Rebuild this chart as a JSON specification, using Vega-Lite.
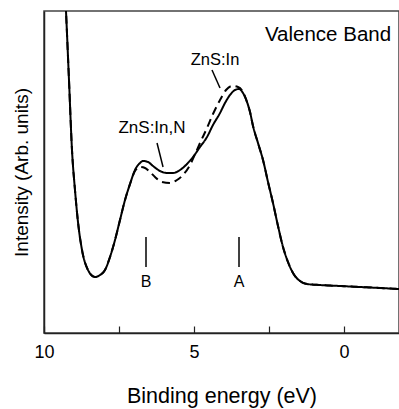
{
  "$schema": "https://vega.github.io/schema/vega-lite/v6.json",
  "width": 355,
  "height": 322,
  "autosize": {"type": "none"},
  "padding": {"left": 44, "top": 11, "right": 0, "bottom": 76},
  "background": "white",
  "config": {
    "view": {"stroke": "#444", "strokeWidth": 1.5},
    "font": "Liberation Sans",
    "axis": {"labelFont": "Liberation Sans", "titleFont": "Liberation Sans", "titleFontWeight": "normal", "labelColor": "black", "titleColor": "black", "domainColor": "#222", "tickColor": "#222", "grid": false}
  },
  "datasets": {
    "spectra": [
      {"E": 9.30, "I": 343, "sample": "ZnS:In,N"},
      {"E": 9.267, "I": 322, "sample": "ZnS:In,N"},
      {"E": 9.167, "I": 253, "sample": "ZnS:In,N"},
      {"E": 9.067, "I": 183, "sample": "ZnS:In,N"},
      {"E": 8.967, "I": 143, "sample": "ZnS:In,N"},
      {"E": 8.867, "I": 111, "sample": "ZnS:In,N"},
      {"E": 8.733, "I": 83, "sample": "ZnS:In,N"},
      {"E": 8.533, "I": 63, "sample": "ZnS:In,N"},
      {"E": 8.30, "I": 56, "sample": "ZnS:In,N"},
      {"E": 8.133, "I": 58, "sample": "ZnS:In,N"},
      {"E": 7.967, "I": 63, "sample": "ZnS:In,N"},
      {"E": 7.80, "I": 76, "sample": "ZnS:In,N"},
      {"E": 7.633, "I": 93, "sample": "ZnS:In,N"},
      {"E": 7.467, "I": 113, "sample": "ZnS:In,N"},
      {"E": 7.30, "I": 133, "sample": "ZnS:In,N"},
      {"E": 7.133, "I": 149, "sample": "ZnS:In,N"},
      {"E": 6.967, "I": 163, "sample": "ZnS:In,N"},
      {"E": 6.80, "I": 170, "sample": "ZnS:In,N"},
      {"E": 6.70, "I": 172, "sample": "ZnS:In,N"},
      {"E": 6.533, "I": 171, "sample": "ZnS:In,N"},
      {"E": 6.367, "I": 167, "sample": "ZnS:In,N"},
      {"E": 6.133, "I": 162, "sample": "ZnS:In,N"},
      {"E": 5.90, "I": 160, "sample": "ZnS:In,N"},
      {"E": 5.70, "I": 160, "sample": "ZnS:In,N"},
      {"E": 5.467, "I": 163, "sample": "ZnS:In,N"},
      {"E": 5.233, "I": 169, "sample": "ZnS:In,N"},
      {"E": 5.033, "I": 176, "sample": "ZnS:In,N"},
      {"E": 4.80, "I": 186, "sample": "ZnS:In,N"},
      {"E": 4.567, "I": 196, "sample": "ZnS:In,N"},
      {"E": 4.367, "I": 208, "sample": "ZnS:In,N"},
      {"E": 4.133, "I": 220, "sample": "ZnS:In,N"},
      {"E": 3.967, "I": 230, "sample": "ZnS:In,N"},
      {"E": 3.80, "I": 238, "sample": "ZnS:In,N"},
      {"E": 3.633, "I": 243, "sample": "ZnS:In,N"},
      {"E": 3.50, "I": 244, "sample": "ZnS:In,N"},
      {"E": 3.367, "I": 240, "sample": "ZnS:In,N"},
      {"E": 3.233, "I": 231, "sample": "ZnS:In,N"},
      {"E": 3.133, "I": 221, "sample": "ZnS:In,N"},
      {"E": 3.033, "I": 207, "sample": "ZnS:In,N"},
      {"E": 2.867, "I": 190, "sample": "ZnS:In,N"},
      {"E": 2.70, "I": 173, "sample": "ZnS:In,N"},
      {"E": 2.533, "I": 151, "sample": "ZnS:In,N"},
      {"E": 2.367, "I": 130, "sample": "ZnS:In,N"},
      {"E": 2.20, "I": 107, "sample": "ZnS:In,N"},
      {"E": 2.033, "I": 86, "sample": "ZnS:In,N"},
      {"E": 1.867, "I": 71, "sample": "ZnS:In,N"},
      {"E": 1.70, "I": 60, "sample": "ZnS:In,N"},
      {"E": 1.467, "I": 52, "sample": "ZnS:In,N"},
      {"E": 1.233, "I": 49, "sample": "ZnS:In,N"},
      {"E": 0.80, "I": 48, "sample": "ZnS:In,N"},
      {"E": 0.133, "I": 47, "sample": "ZnS:In,N"},
      {"E": -0.533, "I": 46, "sample": "ZnS:In,N"},
      {"E": -1.20, "I": 45, "sample": "ZnS:In,N"},
      {"E": -1.833, "I": 44, "sample": "ZnS:In,N"},

      {"E": 9.30, "I": 343, "sample": "ZnS:In"},
      {"E": 9.267, "I": 322, "sample": "ZnS:In"},
      {"E": 9.167, "I": 253, "sample": "ZnS:In"},
      {"E": 9.067, "I": 183, "sample": "ZnS:In"},
      {"E": 8.967, "I": 143, "sample": "ZnS:In"},
      {"E": 8.867, "I": 111, "sample": "ZnS:In"},
      {"E": 8.733, "I": 83, "sample": "ZnS:In"},
      {"E": 8.533, "I": 63, "sample": "ZnS:In"},
      {"E": 8.30, "I": 56, "sample": "ZnS:In"},
      {"E": 8.133, "I": 58, "sample": "ZnS:In"},
      {"E": 7.967, "I": 63, "sample": "ZnS:In"},
      {"E": 7.80, "I": 76, "sample": "ZnS:In"},
      {"E": 7.633, "I": 93, "sample": "ZnS:In"},
      {"E": 7.467, "I": 113, "sample": "ZnS:In"},
      {"E": 7.30, "I": 133, "sample": "ZnS:In"},
      {"E": 7.133, "I": 149, "sample": "ZnS:In"},
      {"E": 6.967, "I": 162, "sample": "ZnS:In"},
      {"E": 6.80, "I": 166, "sample": "ZnS:In"},
      {"E": 6.633, "I": 165, "sample": "ZnS:In"},
      {"E": 6.467, "I": 161, "sample": "ZnS:In"},
      {"E": 6.30, "I": 156, "sample": "ZnS:In"},
      {"E": 6.067, "I": 151, "sample": "ZnS:In"},
      {"E": 5.80, "I": 150, "sample": "ZnS:In"},
      {"E": 5.567, "I": 153, "sample": "ZnS:In"},
      {"E": 5.367, "I": 158, "sample": "ZnS:In"},
      {"E": 5.133, "I": 168, "sample": "ZnS:In"},
      {"E": 4.933, "I": 181, "sample": "ZnS:In"},
      {"E": 4.80, "I": 190, "sample": "ZnS:In"},
      {"E": 4.567, "I": 205, "sample": "ZnS:In"},
      {"E": 4.367, "I": 219, "sample": "ZnS:In"},
      {"E": 4.133, "I": 233, "sample": "ZnS:In"},
      {"E": 3.933, "I": 243, "sample": "ZnS:In"},
      {"E": 3.733, "I": 247, "sample": "ZnS:In"},
      {"E": 3.533, "I": 246, "sample": "ZnS:In"},
      {"E": 3.367, "I": 241, "sample": "ZnS:In"},
      {"E": 3.233, "I": 231, "sample": "ZnS:In"},
      {"E": 3.133, "I": 221, "sample": "ZnS:In"},
      {"E": 3.033, "I": 207, "sample": "ZnS:In"},
      {"E": 2.867, "I": 190, "sample": "ZnS:In"},
      {"E": 2.70, "I": 173, "sample": "ZnS:In"},
      {"E": 2.533, "I": 151, "sample": "ZnS:In"},
      {"E": 2.367, "I": 130, "sample": "ZnS:In"},
      {"E": 2.20, "I": 107, "sample": "ZnS:In"},
      {"E": 2.033, "I": 86, "sample": "ZnS:In"},
      {"E": 1.867, "I": 71, "sample": "ZnS:In"},
      {"E": 1.70, "I": 60, "sample": "ZnS:In"},
      {"E": 1.467, "I": 52, "sample": "ZnS:In"},
      {"E": 1.233, "I": 49, "sample": "ZnS:In"},
      {"E": 0.80, "I": 48, "sample": "ZnS:In"},
      {"E": 0.133, "I": 47, "sample": "ZnS:In"},
      {"E": -0.533, "I": 46, "sample": "ZnS:In"},
      {"E": -1.20, "I": 45, "sample": "ZnS:In"},
      {"E": -1.833, "I": 44, "sample": "ZnS:In"}
    ],
    "segments": [
      {"E": 6.233, "I": 190, "E2": 6.033, "I2": 166},
      {"E": 4.40, "I": 263, "E2": 4.133, "I2": 245},
      {"E": 6.60, "I": 66, "E2": 6.60, "I2": 96},
      {"E": 3.50, "I": 66, "E2": 3.50, "I2": 96}
    ],
    "labels": [
      {"E": 0.533, "I": 298, "text": "Valence Band", "size": 20.5},
      {"E": 4.3, "I": 273, "text": "ZnS:In", "size": 16.5},
      {"E": 6.4, "I": 205, "text": "ZnS:In,N", "size": 17},
      {"E": 6.6, "I": 51, "text": "B", "size": 16},
      {"E": 3.5, "I": 51, "text": "A", "size": 16}
    ]
  },
  "layer": [
    {
      "data": {"name": "spectra"},
      "mark": {"type": "line", "clip": true, "color": "black", "strokeWidth": 2, "interpolate": "monotone"},
      "encoding": {
        "x": {"field": "E", "type": "quantitative",
          "scale": {"domain": [-1.833, 10], "reverse": true, "nice": false, "zero": false},
          "axis": {"values": [10, 7.5, 5, 2.5, 0], "labelExpr": "datum.value % 1 == 0 ? datum.value : ''", "tickSize": -7, "labelPadding": 17, "labelFontSize": 18, "title": "Binding energy (eV)", "titleFontSize": 21.5, "titlePadding": 24, "domainWidth": 1.5, "tickWidth": 1.2, "labelFlush": false}},
        "y": {"field": "I", "type": "quantitative",
          "scale": {"domain": [0, 322], "nice": false, "zero": true},
          "axis": {"ticks": false, "labels": false, "title": "Intensity (Arb. units)", "titleFontSize": 19, "titlePadding": 13, "domainWidth": 1.5}},
        "detail": {"field": "sample"},
        "strokeDash": {"field": "sample", "type": "nominal", "scale": {"domain": ["ZnS:In,N", "ZnS:In"], "range": [[1, 0], [8, 5]]}, "legend": null}
      }
    },
    {
      "data": {"name": "segments"},
      "mark": {"type": "rule", "color": "black", "strokeWidth": 1.5},
      "encoding": {
        "x": {"field": "E", "type": "quantitative"},
        "y": {"field": "I", "type": "quantitative"},
        "x2": {"field": "E2"},
        "y2": {"field": "I2"}
      }
    },
    {
      "data": {"name": "labels"},
      "mark": {"type": "text", "color": "black", "font": "Liberation Sans", "baseline": "middle", "align": "center"},
      "encoding": {
        "x": {"field": "E", "type": "quantitative"},
        "y": {"field": "I", "type": "quantitative"},
        "text": {"field": "text"},
        "size": {"field": "size", "type": "quantitative", "scale": null}
      }
    }
  ]
}
